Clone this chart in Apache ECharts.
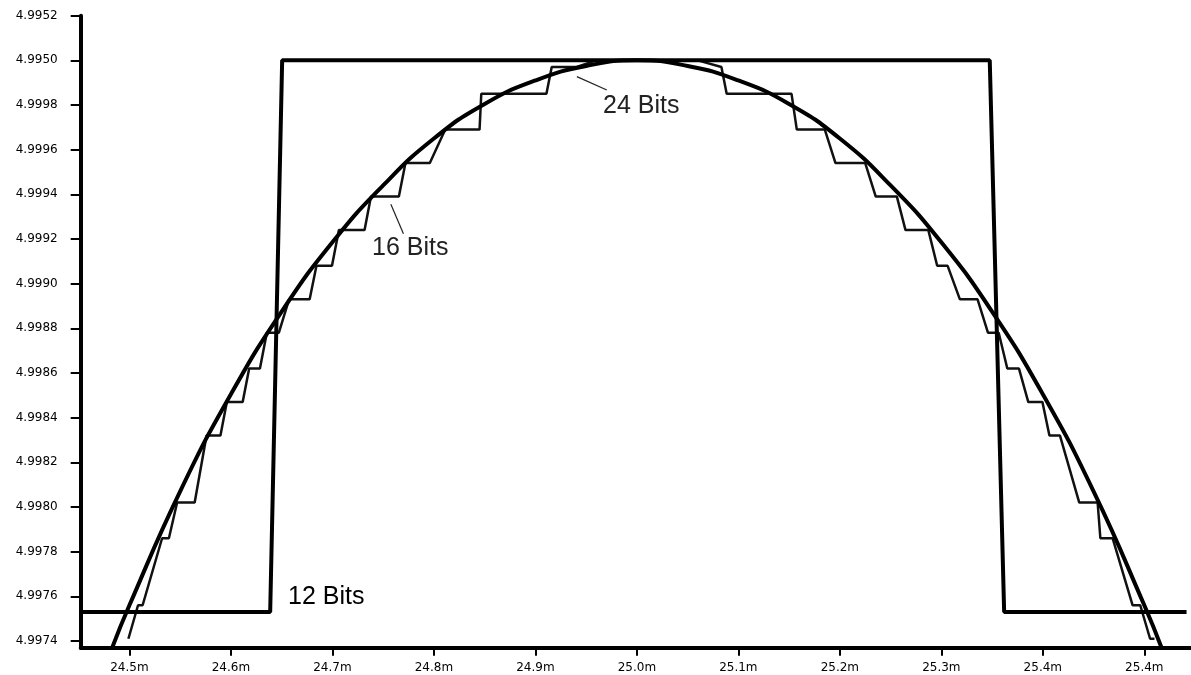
<!DOCTYPE html>
<html>
<head>
<meta charset="utf-8">
<script src="https://cdn.jsdelivr.net/npm/echarts@6/dist/echarts.min.js"></script>
<style>
  html, body { margin: 0; padding: 0; background: #fff; }
  #chart { width: 1191px; height: 675px; }
</style>
</head>
<body>
<div id="chart"></div>
<script>
// tick positions and the labels printed at them (labels copied as they appear)
const xTickValues = [24.5, 24.6, 24.7, 24.8, 24.9, 25.0, 25.1, 25.2, 25.3, 25.4, 25.5];
const xTickLabels = ['24.5m', '24.6m', '24.7m', '24.8m', '24.9m', '25.0m', '25.1m', '25.2m', '25.3m', '25.4m', '25.4m'];
const yTickValues = [4.9974, 4.9976, 4.9978, 4.998, 4.9982, 4.9984, 4.9986, 4.9988, 4.999, 4.9992, 4.9994, 4.9996, 4.9998, 5.0, 5.0002];
const yTickLabels = ['4.9974', '4.9976', '4.9978', '4.9980', '4.9982', '4.9984', '4.9986', '4.9988',
                     '4.9990', '4.9992', '4.9994', '4.9996', '4.9998', '4.9950', '4.9952'];

// 24 bit output: smooth curve
const curve24 = [
  [24.483, 4.99737], [24.50, 4.99756], [24.55, 4.99807], [24.60, 4.998505], [24.65, 4.998875],
  [24.70, 4.999185], [24.75, 4.99944], [24.80, 4.99965], [24.85, 4.999805], [24.90, 4.99991],
  [24.95, 4.999975], [25.00, 5.00000], [25.05, 4.999975], [25.10, 4.99991], [25.15, 4.999805],
  [25.20, 4.99965], [25.25, 4.99944], [25.30, 4.999185], [25.35, 4.998875], [25.40, 4.998505],
  [25.45, 4.99807], [25.50, 4.99756], [25.517, 4.99737]
];

// 16 bit output: staircase corners
const steps16 = [
  [24.4990, 4.99741], [24.5085, 4.99756], [24.5130, 4.99756], [24.5322, 4.99786], [24.5389, 4.99786],
  [24.5470, 4.99802], [24.5643, 4.99802], [24.5760, 4.99832], [24.5897, 4.99832], [24.5960, 4.99847],
  [24.6116, 4.99847], [24.6180, 4.99862], [24.6286, 4.99862], [24.6354, 4.99878], [24.6472, 4.99878],
  [24.6573, 4.99893], [24.6776, 4.99893], [24.6843, 4.99908], [24.6996, 4.99908], [24.7064, 4.99924],
  [24.7317, 4.99924], [24.7380, 4.99939], [24.7655, 4.99939], [24.7720, 4.99954], [24.7960, 4.99954],
  [24.8112, 4.99969], [24.8450, 4.99969], [24.8467, 4.99985], [24.9109, 4.99985], [24.9161, 4.99997],
  [24.9400, 4.99997], [24.9600, 5.00000], [25.0600, 5.00000],
  [25.0833, 4.99997], [25.0885, 4.99985], [25.1524, 4.99985], [25.1576, 4.99969], [25.1852, 4.99969],
  [25.1957, 4.99954], [25.2250, 4.99954], [25.2354, 4.99939], [25.2562, 4.99939], [25.2647, 4.99924],
  [25.2872, 4.99924], [25.2959, 4.99908], [25.3062, 4.99908], [25.3183, 4.99893], [25.3357, 4.99893],
  [25.3460, 4.99878], [25.3565, 4.99878], [25.3650, 4.99862], [25.3765, 4.99862], [25.3857, 4.99847],
  [25.3996, 4.99847], [25.4065, 4.99832], [25.4169, 4.99832], [25.4359, 4.99802], [25.4540, 4.99802],
  [25.4567, 4.99786], [25.4688, 4.99786], [25.4885, 4.99756], [25.4960, 4.99756], [25.5057, 4.99741],
  [25.5100, 4.99741]
];

// 12 bit output: two levels only
const steps12 = [
  [24.452, 4.99753], [24.6387, 4.99753], [24.6505, 5.0000], [25.3477, 5.0000],
  [25.3619, 4.99753], [25.5416, 4.99753]
];

// leader lines from the labels to the traces
const leaders = [
  [[24.7576, 4.999356], [24.7700, 4.999224]],
  [[24.9409, 4.999927], [24.9704, 4.999867]]
];

function tickLabel(values, labels) {
  return function (v) {
    const i = values.findIndex(t => Math.abs(t - v) < 1e-7);
    return i >= 0 ? labels[i] : '';
  };
}

const chart = echarts.init(document.getElementById('chart'));
const tickFont = { color: '#000', fontFamily: 'DejaVu Sans', fontSize: 12 };
const labelFont = '25px "Liberation Sans"';

chart.setOption({
  animation: false,
  grid: { left: 80.7, right: 0, top: 15.7, bottom: 27.3, containLabel: false },
  xAxis: {
    type: 'value',
    min: 24.452,
    max: 25.546,
    axisLine: { lineStyle: { color: '#000', width: 4 } },
    axisTick: { customValues: xTickValues, length: 8, lineStyle: { color: '#000', width: 2 } },
    axisLabel: Object.assign({ customValues: xTickValues, margin: 14, formatter: tickLabel(xTickValues, xTickLabels) }, tickFont),
    splitLine: { show: false }
  },
  yAxis: {
    type: 'value',
    min: 4.99737,
    max: 5.0002,
    axisLine: { show: true, lineStyle: { color: '#000', width: 4 } },
    axisTick: { show: true, customValues: yTickValues, length: 10, lineStyle: { color: '#000', width: 2 } },
    axisLabel: Object.assign({ customValues: yTickValues, margin: 23, formatter: tickLabel(yTickValues, yTickLabels) }, tickFont),
    splitLine: { show: false }
  },
  series: [
    {
      name: '12 Bits',
      type: 'line',
      data: steps12,
      showSymbol: false,
      lineStyle: { color: '#000', width: 4 },
      z: 3
    },
    {
      name: '16 Bits',
      type: 'line',
      data: steps16,
      showSymbol: false,
      lineStyle: { color: '#111', width: 2.5 },
      z: 2,
      markLine: {
        silent: true,
        symbol: 'none',
        label: { show: false },
        lineStyle: { color: '#222', width: 1.2, type: 'solid' },
        data: leaders.map(l => [{ coord: l[0] }, { coord: l[1] }])
      }
    },
    {
      name: '24 Bits',
      type: 'line',
      data: curve24,
      smooth: true,
      showSymbol: false,
      lineStyle: { color: '#000', width: 4 },
      z: 4
    }
  ],
  graphic: [
    { type: 'text', x: 288, y: 597, style: { text: '12 Bits', font: labelFont, fill: '#000', verticalAlign: 'middle' } },
    { type: 'text', x: 372, y: 248, style: { text: '16 Bits', font: labelFont, fill: '#222', verticalAlign: 'middle' } },
    { type: 'text', x: 603, y: 106, style: { text: '24 Bits', font: labelFont, fill: '#222', verticalAlign: 'middle' } }
  ]
});
</script>
</body>
</html>
